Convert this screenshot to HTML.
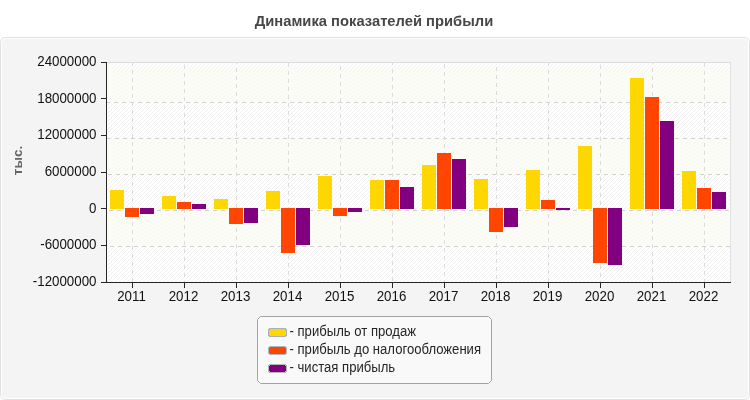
<!DOCTYPE html>
<html><head><meta charset="utf-8"><style>
html,body{margin:0;padding:0;background:#fff;}
body{width:750px;height:400px;overflow:hidden;position:relative;}
svg{position:absolute;left:0;top:0;display:block;}
.t{font-family:'Liberation Sans', Arial, sans-serif;font-size:14px;fill:#111111;}
.lg{font-family:'Liberation Sans', Arial, sans-serif;font-size:14px;fill:#262626;}
.yt{font-family:'Liberation Sans', Arial, sans-serif;font-size:13.5px;font-weight:bold;fill:#666;}
.title{font-family:'Liberation Sans', Arial, sans-serif;font-size:15.4px;font-weight:bold;fill:#474747;}
</style></head><body>
<svg width="750" height="400" viewBox="0 0 750 400">
<text transform="translate(374,25.5) scale(0.958,1)" text-anchor="middle" class="title">Динамика показателей прибыли</text>
<rect x="0.5" y="37.5" width="749" height="362" rx="5" fill="#f4f4f4" stroke="#e0e0e0"/>
<rect x="1.5" y="38.5" width="747" height="360" rx="4" fill="none" stroke="#ffffff"/>
<defs><pattern id="hatch" patternUnits="userSpaceOnUse" width="4" height="4" x="0" y="0"><rect width="4" height="4" fill="#fff"/><rect x="0" y="0" width="1" height="1" fill="#f1f1f1"/><rect x="3" y="1" width="1" height="1" fill="#f1f1f1"/><rect x="2" y="2" width="1" height="1" fill="#f1f1f1"/><rect x="1" y="3" width="1" height="1" fill="#f1f1f1"/></pattern></defs>
<g shape-rendering="crispEdges">
<rect x="106" y="62" width="625" height="221" fill="url(#hatch)"/>
<rect x="107" y="67" width="623" height="36" fill="#fcfcf2" fill-opacity="0.6"/>
<rect x="107" y="139" width="623" height="36" fill="#fcfcf2" fill-opacity="0.6"/>
<rect x="107" y="211" width="623" height="36" fill="#fcfcf2" fill-opacity="0.6"/>
<rect x="106" y="62" width="625" height="1" fill="#dcdcdc"/>
<rect x="730" y="62" width="1" height="220" fill="#e2e2e2"/>
<line x1="106" y1="102.5" x2="730" y2="102.5" stroke="#d2d2d2" stroke-dasharray="4 4" stroke-dashoffset="0"/>
<line x1="106" y1="138.5" x2="730" y2="138.5" stroke="#d2d2d2" stroke-dasharray="4 4" stroke-dashoffset="7"/>
<line x1="106" y1="174.5" x2="730" y2="174.5" stroke="#d2d2d2" stroke-dasharray="4 4" stroke-dashoffset="6"/>
<line x1="106" y1="210.5" x2="730" y2="210.5" stroke="#d2d2d2" stroke-dasharray="4 4" stroke-dashoffset="5"/>
<line x1="106" y1="246.5" x2="730" y2="246.5" stroke="#d2d2d2" stroke-dasharray="4 4" stroke-dashoffset="4"/>
<line x1="132.5" y1="62" x2="132.5" y2="282" stroke="#dcdcdc" stroke-dasharray="4 4" stroke-dashoffset="0"/>
<line x1="184.5" y1="62" x2="184.5" y2="282" stroke="#dcdcdc" stroke-dasharray="4 4" stroke-dashoffset="5"/>
<line x1="236.5" y1="62" x2="236.5" y2="282" stroke="#dcdcdc" stroke-dasharray="4 4" stroke-dashoffset="2"/>
<line x1="288.5" y1="62" x2="288.5" y2="282" stroke="#dcdcdc" stroke-dasharray="4 4" stroke-dashoffset="7"/>
<line x1="340.5" y1="62" x2="340.5" y2="282" stroke="#dcdcdc" stroke-dasharray="4 4" stroke-dashoffset="4"/>
<line x1="392.5" y1="62" x2="392.5" y2="282" stroke="#dcdcdc" stroke-dasharray="4 4" stroke-dashoffset="1"/>
<line x1="444.5" y1="62" x2="444.5" y2="282" stroke="#dcdcdc" stroke-dasharray="4 4" stroke-dashoffset="6"/>
<line x1="496.5" y1="62" x2="496.5" y2="282" stroke="#dcdcdc" stroke-dasharray="4 4" stroke-dashoffset="3"/>
<line x1="548.5" y1="62" x2="548.5" y2="282" stroke="#dcdcdc" stroke-dasharray="4 4" stroke-dashoffset="0"/>
<line x1="600.5" y1="62" x2="600.5" y2="282" stroke="#dcdcdc" stroke-dasharray="4 4" stroke-dashoffset="5"/>
<line x1="652.5" y1="62" x2="652.5" y2="282" stroke="#dcdcdc" stroke-dasharray="4 4" stroke-dashoffset="2"/>
<line x1="704.5" y1="62" x2="704.5" y2="282" stroke="#dcdcdc" stroke-dasharray="4 4" stroke-dashoffset="7"/>
<rect x="110" y="190" width="14" height="19" fill="#ffd700"/>
<rect x="125" y="208" width="14" height="9" fill="#ff4500"/>
<rect x="140" y="208" width="14" height="6" fill="#800080"/>
<rect x="162" y="196" width="14" height="13" fill="#ffd700"/>
<rect x="177" y="202" width="14" height="7" fill="#ff4500"/>
<rect x="192" y="204" width="14" height="5" fill="#800080"/>
<rect x="214" y="199" width="14" height="10" fill="#ffd700"/>
<rect x="229" y="208" width="14" height="16" fill="#ff4500"/>
<rect x="244" y="208" width="14" height="15" fill="#800080"/>
<rect x="266" y="191" width="14" height="18" fill="#ffd700"/>
<rect x="281" y="208" width="14" height="45" fill="#ff4500"/>
<rect x="296" y="208" width="14" height="37" fill="#800080"/>
<rect x="318" y="176" width="14" height="33" fill="#ffd700"/>
<rect x="333" y="208" width="14" height="8" fill="#ff4500"/>
<rect x="348" y="208" width="14" height="4" fill="#800080"/>
<rect x="370" y="180" width="14" height="29" fill="#ffd700"/>
<rect x="385" y="180" width="14" height="29" fill="#ff4500"/>
<rect x="400" y="187" width="14" height="22" fill="#800080"/>
<rect x="422" y="165" width="14" height="44" fill="#ffd700"/>
<rect x="437" y="153" width="14" height="56" fill="#ff4500"/>
<rect x="452" y="159" width="14" height="50" fill="#800080"/>
<rect x="474" y="179" width="14" height="30" fill="#ffd700"/>
<rect x="489" y="208" width="14" height="24" fill="#ff4500"/>
<rect x="504" y="208" width="14" height="19" fill="#800080"/>
<rect x="526" y="170" width="14" height="39" fill="#ffd700"/>
<rect x="541" y="200" width="14" height="9" fill="#ff4500"/>
<rect x="556" y="208" width="14" height="2" fill="#800080"/>
<rect x="578" y="146" width="14" height="63" fill="#ffd700"/>
<rect x="593" y="208" width="14" height="55" fill="#ff4500"/>
<rect x="608" y="208" width="14" height="57" fill="#800080"/>
<rect x="630" y="78" width="14" height="131" fill="#ffd700"/>
<rect x="645" y="97" width="14" height="112" fill="#ff4500"/>
<rect x="660" y="121" width="14" height="88" fill="#800080"/>
<rect x="682" y="171" width="14" height="38" fill="#ffd700"/>
<rect x="697" y="188" width="14" height="21" fill="#ff4500"/>
<rect x="712" y="192" width="14" height="17" fill="#800080"/>
<rect x="106" y="62" width="1" height="221" fill="#262626"/>
<rect x="101" y="282" width="630" height="1" fill="#262626"/>
<rect x="101" y="62" width="5" height="1" fill="#262626"/>
<rect x="101" y="98" width="5" height="1" fill="#262626"/>
<rect x="101" y="135" width="5" height="1" fill="#262626"/>
<rect x="101" y="172" width="5" height="1" fill="#262626"/>
<rect x="101" y="208" width="5" height="1" fill="#262626"/>
<rect x="101" y="245" width="5" height="1" fill="#262626"/>
<rect x="101" y="282" width="5" height="1" fill="#262626"/>
<rect x="132" y="282" width="1" height="6" fill="#262626"/>
<rect x="184" y="282" width="1" height="6" fill="#262626"/>
<rect x="236" y="282" width="1" height="6" fill="#262626"/>
<rect x="288" y="282" width="1" height="6" fill="#262626"/>
<rect x="340" y="282" width="1" height="6" fill="#262626"/>
<rect x="392" y="282" width="1" height="6" fill="#262626"/>
<rect x="444" y="282" width="1" height="6" fill="#262626"/>
<rect x="496" y="282" width="1" height="6" fill="#262626"/>
<rect x="548" y="282" width="1" height="6" fill="#262626"/>
<rect x="600" y="282" width="1" height="6" fill="#262626"/>
<rect x="652" y="282" width="1" height="6" fill="#262626"/>
<rect x="704" y="282" width="1" height="6" fill="#262626"/>
</g>
<text transform="translate(96.5,66) scale(0.952,1)" text-anchor="end" class="t">24000000</text>
<text transform="translate(96.5,103) scale(0.952,1)" text-anchor="end" class="t">18000000</text>
<text transform="translate(96.5,139) scale(0.952,1)" text-anchor="end" class="t">12000000</text>
<text transform="translate(96.5,176) scale(0.952,1)" text-anchor="end" class="t">6000000</text>
<text transform="translate(96.5,213) scale(0.952,1)" text-anchor="end" class="t">0</text>
<text transform="translate(96.5,249) scale(0.952,1)" text-anchor="end" class="t">-6000000</text>
<text transform="translate(96.5,286) scale(0.952,1)" text-anchor="end" class="t">-12000000</text>
<text transform="translate(131.5,301) scale(0.952,1)" text-anchor="middle" class="t">2011</text>
<text transform="translate(183.5,301) scale(0.952,1)" text-anchor="middle" class="t">2012</text>
<text transform="translate(235.5,301) scale(0.952,1)" text-anchor="middle" class="t">2013</text>
<text transform="translate(287.5,301) scale(0.952,1)" text-anchor="middle" class="t">2014</text>
<text transform="translate(339.5,301) scale(0.952,1)" text-anchor="middle" class="t">2015</text>
<text transform="translate(391.5,301) scale(0.952,1)" text-anchor="middle" class="t">2016</text>
<text transform="translate(443.5,301) scale(0.952,1)" text-anchor="middle" class="t">2017</text>
<text transform="translate(495.5,301) scale(0.952,1)" text-anchor="middle" class="t">2018</text>
<text transform="translate(547.5,301) scale(0.952,1)" text-anchor="middle" class="t">2019</text>
<text transform="translate(599.5,301) scale(0.952,1)" text-anchor="middle" class="t">2020</text>
<text transform="translate(651.5,301) scale(0.952,1)" text-anchor="middle" class="t">2021</text>
<text transform="translate(703.5,301) scale(0.952,1)" text-anchor="middle" class="t">2022</text>
<text transform="translate(21.5,160.5) rotate(-90)" text-anchor="middle" class="yt">тыс.</text>
<path d="M260.5,316.5 H488.5 L491.5,319.5 V380.5 L488.5,383.5 H260.5 L257.5,380.5 V319.5 Z" fill="#f9f9f9" stroke="#a4a4a4"/>
<g shape-rendering="crispEdges">
<rect x="269" y="328" width="17" height="9" fill="#aaaebf"/>
<rect x="268" y="329" width="19" height="7" fill="#aaaebf"/>
<rect x="270" y="329" width="15" height="7" fill="#ffd700"/>
<rect x="269" y="330" width="17" height="5" fill="#ffd700"/>
</g>
<text transform="translate(289.5,336) scale(0.9375,1)" class="lg">- прибыль от продаж</text>
<g shape-rendering="crispEdges">
<rect x="269" y="346" width="17" height="9" fill="#a9b8c1"/>
<rect x="268" y="347" width="19" height="7" fill="#a9b8c1"/>
<rect x="270" y="347" width="15" height="7" fill="#ff4500"/>
<rect x="269" y="348" width="17" height="5" fill="#ff4500"/>
</g>
<text transform="translate(289.5,354) scale(0.9375,1)" class="lg">- прибыль до налогообложения</text>
<g shape-rendering="crispEdges">
<rect x="269" y="364" width="17" height="9" fill="#afbcaf"/>
<rect x="268" y="365" width="19" height="7" fill="#afbcaf"/>
<rect x="270" y="365" width="15" height="7" fill="#800080"/>
<rect x="269" y="366" width="17" height="5" fill="#800080"/>
</g>
<text transform="translate(289.5,372) scale(0.9375,1)" class="lg">- чистая прибыль</text>
</svg>
</body></html>
